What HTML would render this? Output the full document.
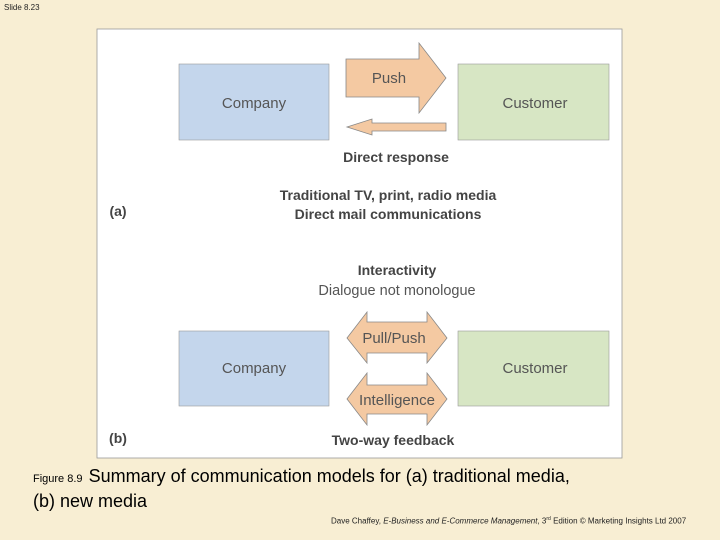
<!DOCTYPE html>
<html><head><style>
body{margin:0;width:720px;height:540px;background:#f8eed3;position:relative;font-family:"Liberation Sans",sans-serif;overflow:hidden}
.a{position:absolute}
</style></head><body>
<div class="a" style="left:4px;top:3px;font-size:8px;color:#222">Slide 8.23</div>
<svg class="a" style="left:0;top:0" width="720" height="540">
<rect x="97" y="29" width="525" height="429" fill="#fff" stroke="#999" stroke-width="0.8"/>
<g font-family="Liberation Sans,sans-serif" fill="#555">
<rect x="179" y="64" width="150" height="76" fill="#c4d6ec" stroke="#999" stroke-width="0.6"/>
<rect x="458" y="64" width="151" height="76" fill="#d7e6c4" stroke="#999" stroke-width="0.6"/>
<rect x="179" y="331" width="150" height="75" fill="#c4d6ec" stroke="#999" stroke-width="0.6"/>
<rect x="458" y="331" width="151" height="75" fill="#d7e6c4" stroke="#999" stroke-width="0.6"/>
<g fill="#f4c9a2" stroke="#888" stroke-width="0.8">
<polygon points="346,59 419,59 419,43 446,78 419,113 419,97 346,97"/>
<polygon points="347,127 372,119 372,123 446,123 446,131 372,131 372,135"/>
<polygon points="347,338 367,312 367,322 427,322 427,312 447,338 427,363 427,353 367,353 367,363"/>
<polygon points="347,399 367,373 367,385 427,385 427,373 447,399 427,425 427,414 367,414 367,425"/>
</g>
<g font-size="15" fill="#555" text-anchor="middle">
<text x="254" y="108">Company</text><text x="535" y="108">Customer</text>
<text x="254" y="373">Company</text><text x="535" y="373">Customer</text>
<text x="389" y="83">Push</text><text x="394" y="343">Pull/Push</text>
<text x="397" y="405">Intelligence</text>
<text x="397" y="295" font-size="14.5">Dialogue not monologue</text>
</g>
<g font-size="14" font-weight="bold" fill="#444" text-anchor="middle">
<text x="396" y="162">Direct response</text>
<text x="388" y="200">Traditional TV, print, radio media</text>
<text x="388" y="219">Direct mail communications</text>
<text x="397" y="275">Interactivity</text>
<text x="393" y="445">Two-way feedback</text>
<text x="118" y="216">(a)</text><text x="118" y="443">(b)</text>
</g>
</g>
</svg>
<div class="a" style="left:33px;top:465px;font-size:18px;color:#000;line-height:22px"><span style="font-size:11px">Figure 8.9&nbsp; </span>Summary of communication models for (a) traditional media,<br>(b) new media</div>
<div class="a" style="left:331px;top:516px;font-size:8px;color:#222">Dave Chaffey, <i>E-Business and E-Commerce Management</i>, 3<sup style="font-size:5px">rd</sup> Edition © Marketing Insights Ltd 2007</div>
</body></html>
